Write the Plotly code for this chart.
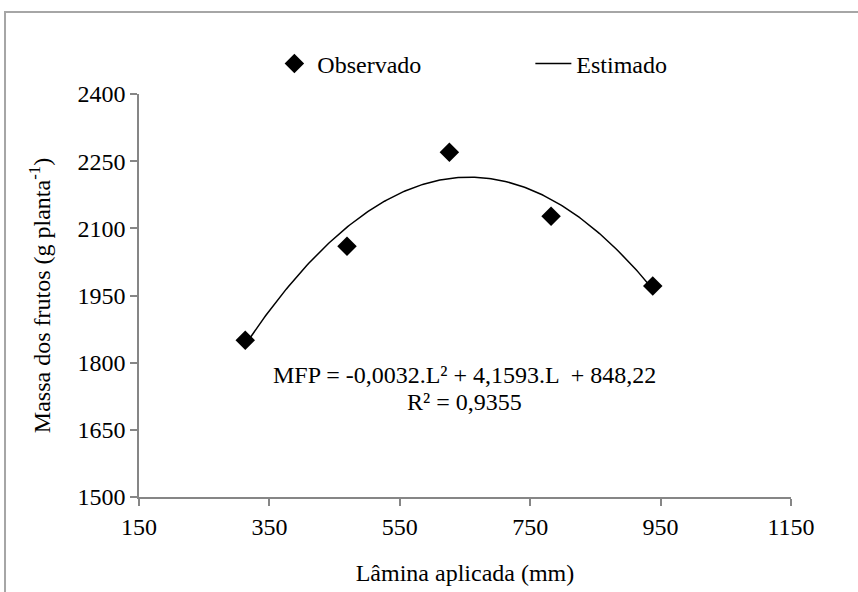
import numpy as np
import plotly.graph_objects as go

# Irrigation depth (mm) and observed fruit mass (g per plant)
lamina = [313, 469, 626, 782, 938]
massa = [1850, 2060, 2270, 2127, 1971]

# Quadratic trend: MFP = a.L^2 + b.L + c
trend_coef = [-0.003166, 4.1593, 848.22]
r_squared = 0.9355

x_ticks = [150, 350, 550, 750, 950, 1150]
y_ticks = [1500, 1650, 1800, 1950, 2100, 2250, 2400]

FONT = "Liberation Serif, serif"
AXIS_GRAY = "#868686"
TXT = dict(family=FONT, size=24, color="black")


def br(num, fmt):
    return format(num, fmt).replace(".", ",")


a, b, c = trend_coef
l_fit = np.linspace(min(lamina), max(lamina), 200)
m_fit = a * l_fit ** 2 + b * l_fit + c

fig = go.Figure()
fig.add_trace(go.Scatter(
    x=lamina, y=massa, mode="markers", name="Observado",
    marker=dict(symbol="diamond", size=15, color="black"),
))
fig.add_trace(go.Scatter(
    x=l_fit, y=m_fit, mode="lines", name="Estimado",
    line=dict(color="black", width=1.5),
))

eq_text = (f"MFP = {br(a, '.4f')}.L² + {br(b, '.4f')}.L \u00a0+ {br(c, '.2f')}")
r2_text = f"R² = {br(r_squared, '.4f')}"
fig.add_annotation(x=649, y=1772, text=eq_text, showarrow=False,
                   xanchor="center", yanchor="middle", font=TXT)
fig.add_annotation(x=649, y=1712, text=r2_text, showarrow=False,
                   xanchor="center", yanchor="middle", font=TXT)

# chart-area frame
fig.add_shape(type="rect", xref="paper", yref="paper",
              x0=-0.2055, x1=1.3, y0=-0.4, y1=1.2035,
              line=dict(color="#a6a6a6", width=2), fillcolor="rgba(0,0,0,0)",
              layer="below")

axis_common = dict(
    showgrid=False, zeroline=False, showline=True, linecolor=AXIS_GRAY,
    linewidth=1.5, ticks="outside", tickcolor=AXIS_GRAY, ticklen=7,
    tickwidth=1.5, tickfont=TXT,
)

fig.update_layout(
    template="none",
    width=858, height=592,
    margin=dict(l=139, r=67, t=94, b=95),
    paper_bgcolor="white", plot_bgcolor="white",
    font=TXT,
    showlegend=True,
    legend=dict(
        orientation="h", x=0.203, y=1.075, xanchor="left", yanchor="middle",
        font=TXT,
        itemwidth=36,
        entrywidth=208, entrywidthmode="pixels",
        bgcolor="rgba(0,0,0,0)",
    ),
    xaxis=dict(
        range=[150, 1150], tickvals=x_ticks, ticktext=[str(v) for v in x_ticks],
        title=dict(text="Lâmina aplicada (mm)", standoff=26, font=TXT),
        **axis_common,
    ),
    yaxis=dict(
        range=[1500, 2400], tickvals=y_ticks, ticktext=[str(v) for v in y_ticks],
        title=dict(text="Massa dos frutos (g planta<sup>-1</sup>)", standoff=20,
                   font=TXT),
        **axis_common,
    ),
)

fig.write_html("out.html")
